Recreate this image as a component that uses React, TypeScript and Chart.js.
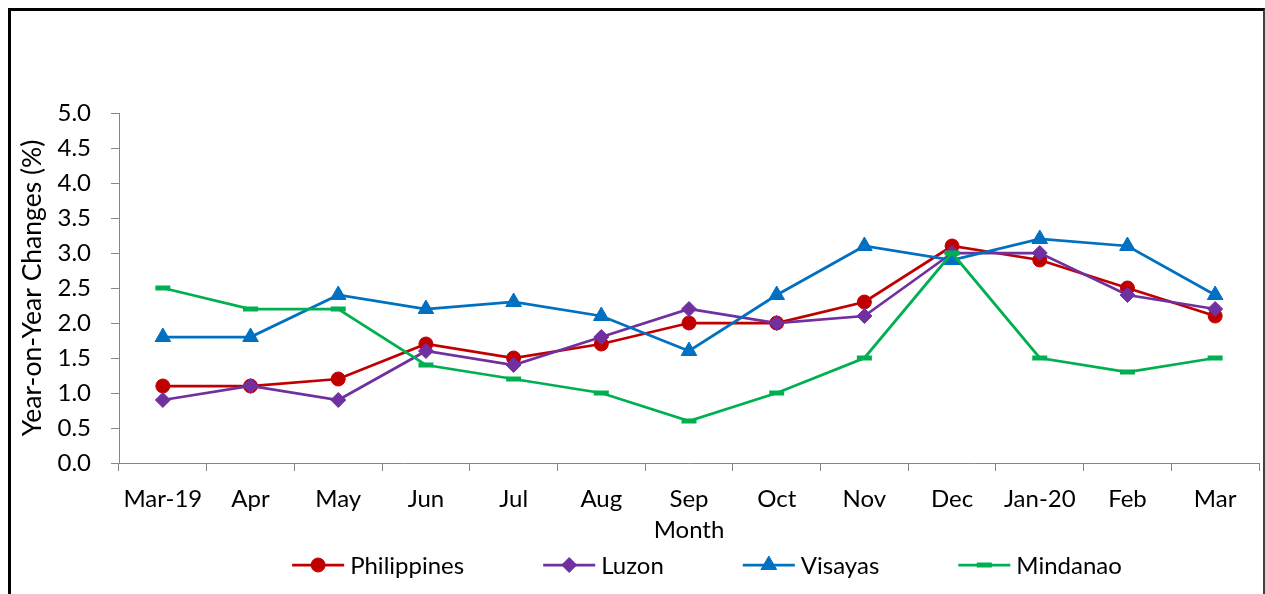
import React, { useEffect, useRef } from "react";
import { Chart, registerables } from "chart.js";
import { drawPoint } from "chart.js/helpers";

Chart.register(...registerables);

const categories = ["Mar-19", "Apr", "May", "Jun", "Jul", "Aug", "Sep", "Oct", "Nov", "Dec", "Jan-20", "Feb", "Mar"];
const philippines = [1.1, 1.1, 1.2, 1.7, 1.5, 1.7, 2.0, 2.0, 2.3, 3.1, 2.9, 2.5, 2.1];
const luzon = [0.9, 1.1, 0.9, 1.6, 1.4, 1.8, 2.2, 2.0, 2.1, 3.0, 3.0, 2.4, 2.2];
const visayas = [1.8, 1.8, 2.4, 2.2, 2.3, 2.1, 1.6, 2.4, 3.1, 2.9, 3.2, 3.1, 2.4];
const mindanao = [2.5, 2.2, 2.2, 1.4, 1.2, 1.0, 0.6, 1.0, 1.5, 3.0, 1.5, 1.3, 1.5];
const seriesNames = ["Philippines", "Luzon", "Visayas", "Mindanao"];
const yTitle = "Year-on-Year Changes (%)";
const xTitle = "Month";

const FONT = "Lato, 'Open Sans', sans-serif";
const FS = 24;
const CW = 1252;
const CH = 583;

const legendPlugin = {
  id: "customLegend",
  afterDraw(chart: any) {
    const ctx = chart.ctx;
    ctx.save();
    ctx.font = `${FS}px ${FONT}`;
    const lineLen = 52, gapText = 6, gapItem = 79;
    const items = chart.data.datasets.map((ds: any) => ({ ds, w: ctx.measureText(ds.label).width }));
    const total = items.reduce((s: number, it: any) => s + lineLen + gapText + it.w, 0) + gapItem * (items.length - 1);
    let x = 696 - total / 2;
    const y = 554;
    items.forEach(({ ds, w }: any) => {
      ctx.strokeStyle = ds.borderColor;
      ctx.lineWidth = ds.borderWidth;
      ctx.beginPath();
      ctx.moveTo(x, y);
      ctx.lineTo(x + lineLen, y);
      ctx.stroke();
      ctx.fillStyle = ds.pointBackgroundColor;
      ctx.strokeStyle = ds.pointBorderColor;
      ctx.lineWidth = ds.pointBorderWidth;
      drawPoint(ctx, { pointStyle: ds.pointStyle, rotation: 0, radius: ds.pointRadius, borderWidth: ds.pointBorderWidth }, x + lineLen / 2, y);
      ctx.fillStyle = "#000";
      ctx.textBaseline = "middle";
      ctx.textAlign = "left";
      ctx.fillText(ds.label, x + lineLen + gapText, y + 1);
      x += lineLen + gapText + w + gapItem;
    });
    ctx.restore();
  },
};

function ds(label: string, data: number[], color: string, style: string, radius: number, pbw: number, order: number) {
  return {
    label,
    data,
    borderColor: color,
    backgroundColor: color,
    borderWidth: 2.75,
    pointStyle: style,
    pointRadius: radius,
    pointBorderWidth: pbw,
    pointBackgroundColor: color,
    pointBorderColor: color,
    order,
    tension: 0,
  };
}

export default function App() {
  const ref = useRef<HTMLCanvasElement>(null);
  useEffect(() => {
    const chart = new Chart(ref.current!, {
      type: "line",
      data: {
        labels: categories,
        datasets: [
          ds(seriesNames[0], philippines, "#C00000", "circle", 7, 1, 4),
          ds(seriesNames[1], luzon, "#7030A0", "rectRot", 7.5, 1, 3),
          ds(seriesNames[2], visayas, "#0070C0", "triangle", 9, 1, 2),
          ds(seriesNames[3], mindanao, "#00B050", "line", 7.5, 5, 1),
        ] as any,
      },
      options: {
        responsive: false,
        animation: false,
        layout: { autoPadding: false, padding: { top: 102, right: 4, left: 0, bottom: 0 } },
        plugins: { legend: { display: false }, tooltip: { enabled: false } },
        scales: {
          x: {
            type: "category",
            offset: true,
            afterFit: (s: any) => { s.height = CH - 452; s.paddingLeft = 0; s.paddingRight = 0; },
            grid: { offset: true, drawOnChartArea: false, drawTicks: true, tickLength: 8, color: "#868686" },
            border: { display: true, color: "#868686", width: 1 },
            ticks: { color: "#000", font: { family: FONT, size: FS }, padding: 14, maxRotation: 0, autoSkip: false },
            title: { display: true, text: xTitle, color: "#000", font: { family: FONT, size: FS }, padding: { top: 0, bottom: 49 } },
          },
          y: {
            min: 0,
            max: 5,
            afterFit: (s: any) => { s.width = 108; },
            grid: { drawOnChartArea: false, drawTicks: true, tickLength: 8, color: "#868686" },
            border: { display: true, color: "#868686", width: 1 },
            ticks: { stepSize: 0.5, color: "#000", font: { family: FONT, size: FS }, padding: 20, callback: (v: any) => Number(v).toFixed(1) },
            title: { display: true, text: yTitle, color: "#000", font: { family: FONT, size: 26.5 }, padding: { top: 6, bottom: 0 } },
          },
        },
      },
      plugins: [legendPlugin],
    });
    return () => chart.destroy();
  }, []);
  return (
    <div
      style={{
        position: "fixed",
        left: 8,
        top: 8,
        width: 1257,
        height: 586,
        boxSizing: "border-box",
        borderTop: "3px solid #000",
        borderLeft: "3px solid #000",
        borderRight: "2px solid #404040",
        background: "#fff",
      }}
    >
      <canvas ref={ref} width={CW} height={CH} style={{ display: "block" }} />
    </div>
  );
}
